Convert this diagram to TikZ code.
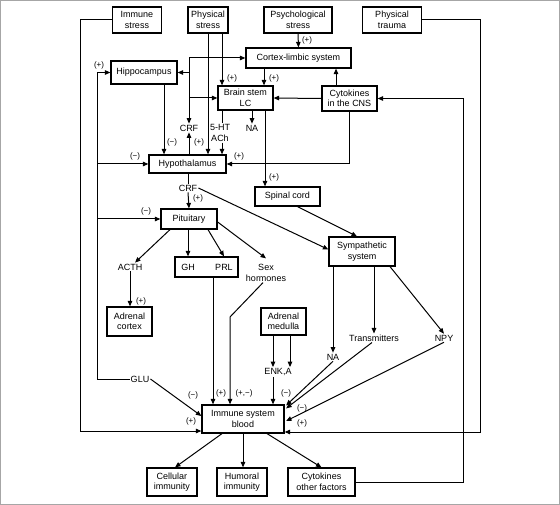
\documentclass[tikz,border=0pt]{standalone}
\usepackage{fontspec}
\setmainfont{Liberation Sans}
\usetikzlibrary{arrows.meta}

\begin{document}
\begin{tikzpicture}[x=1pt,y=-1pt,
		font=\fontsize{9}{10.5}\selectfont,
		box/.style={draw,line width=1.2pt,align=center,inner sep=0pt},
		plain/.style={align=center,inner sep=1pt},
		sign/.style={inner sep=0pt,font=\fontsize{8}{9}\selectfont},
		link/.style={line width=1pt},
		arr/.style={line width=1pt,-{Triangle[length=5.5pt,width=4.5pt]}}]
	\useasboundingbox (0,0) rectangle (560,505);
	\draw[gray!70,line width=1pt] (0.5,0.5) rectangle (559.5,504.5);

	\node[box,minimum width=49pt,minimum height=26pt] (imst) at (137,20) {Immune\\stress};
	\node[box,minimum width=40pt,minimum height=26pt] (phst) at (208,20) {Physical\\stress};
	\node[box,minimum width=68pt,minimum height=26pt] (psst) at (298,20) {Psychological\\stress};
	\node[box,minimum width=59pt,minimum height=26pt] (phtr) at (392,20) {Physical\\trauma};
	\node[box,minimum width=105pt,minimum height=20pt] (cortex) at (298.5,58) {Cortex-limbic system};
	\node[box,minimum width=66pt,minimum height=23pt] (hippo) at (144,72.5) {Hippocampus};
	\node[box,minimum width=55pt,minimum height=24pt] (lc) at (245.5,98) {Brain stem\\LC};
	\node[box,minimum width=55pt,minimum height=25pt] (cyto) at (349.5,98.5) {Cytokines\\in the CNS};
	\node[plain] (crfa) at (189,128) {CRF};
	\node[plain] (ht) at (220,133) {5-HT\\ACh};
	\node[plain] (naa) at (252,128) {NA};
	\node[box,minimum width=77pt,minimum height=18pt] (hypo) at (187.5,164) {Hypothalamus};
	\node[plain] (crfb) at (188,188) {CRF};
	\node[box,minimum width=56pt,minimum height=20pt] (pit) at (189,219) {Pituitary};
	\node[box,minimum width=65pt,minimum height=19pt] (spinal) at (287.5,196.5) {Spinal cord};
	\node[box,minimum width=66pt,minimum height=29pt] (symp) at (362,251.5) {Sympathetic\\system};
	\node[plain] (acth) at (130,267) {ACTH};
	\node[box,minimum width=63pt,minimum height=20pt] (ghprl) at (206.5,267) {};
	\node[plain] (gh) at (188,267) {GH};
	\node[plain] (prl) at (224,267) {PRL};
	\node[plain] (sex) at (266,273) {Sex\\hormones};
	\node[box,minimum width=45pt,minimum height=29pt] (adco) at (129.5,321.5) {Adrenal\\cortex};
	\node[box,minimum width=45pt,minimum height=27pt] (adme) at (283.5,321.5) {Adrenal\\medulla};
	\node[plain] (enk) at (278,372) {ENK,A};
	\node[plain] (nab) at (333,357) {NA};
	\node[plain] (trans) at (374,338) {Transmitters};
	\node[plain] (npy) at (444,338) {NPY};
	\node[plain] (glu) at (140,379) {GLU};
	\node[box,minimum width=82pt,minimum height=28pt] (imm) at (243,419) {Immune system\\blood};
	\node[box,minimum width=50pt,minimum height=28pt] (cell) at (172,482) {Cellular\\immunity};
	\node[box,minimum width=50pt,minimum height=28pt] (hum) at (242,482) {Humoral\\immunity};
	\node[box,minimum width=67pt,minimum height=28pt] (cytof) at (321.5,482) {Cytokines\\other factors};

	% feedback lines on the left
	\coordinate (l1) at (80,431);
	\draw[arr] (imst.west) -| (l1) -- (l1 -| imm.west);
	\coordinate (l2) at (97,379);
	\draw[arr] (glu.west) -- (l2) |- (hippo.west);
	\draw[arr] (l2 |- hypo.west) -- (hypo.west);
	\draw[arr] (l2 |- pit.west) -- (pit.west);
	\draw[arr] (glu.east) -- ([yshift=3pt]imm.west);

	% stress inputs
	\draw[arr] (phst.south) -- (phst.south |- hypo.north);
	\coordinate (p2) at (222,33);
	\draw[arr] (p2) -- (p2 |- lc.north);
	\draw[link] (p2 |- lc.south) -- (p2 |- ht.north);
	\draw[arr] (p2 |- ht.south) -- (p2 |- hypo.north);
	\draw[arr] (psst.south) -- (cortex.north);
	\coordinate (c2) at (264,0);
	\draw[arr] (c2 |- cortex.south) -- (c2 |- lc.north);
	\coordinate (c3) at (336,0);
	\draw[arr] (c3 |- cyto.north) -- (c3 |- cortex.south);
	\draw[arr] (cyto.west) -- (lc.east);
	\draw[arr] (cyto.south) |- (hypo.east);
	\coordinate (r1) at (463,98.5);
	\draw[arr] (cytof.east) -| (r1) -- (r1 -| cyto.east);
	\coordinate (r2) at (480,432);
	\draw[arr] (phtr.east) -| (r2) -- (r2 -| imm.east);

	% CRF column
	\coordinate (c1) at (189,58);
	\draw[arr] (c1) -- (cortex.west);
	\draw[arr] (c1) -- (c1 |- crfa.north);
	\draw[arr] (c1 |- hippo.east) -- (hippo.east);
	\draw[arr] (c1 |- lc.west) -- (lc.west);
	\draw[arr] ([xshift=20pt]hippo.south) -- ([xshift=20pt]hippo.south |- hypo.north);
	\draw[arr] (hypo.north -| crfa) -- (crfa.south);
	\draw[arr] (lc.south -| naa) -- (naa.north);
	\draw[arr] ([xshift=19.5pt]lc.south) -- ([xshift=19.5pt]lc.south |- spinal.north);

	% pituitary and sympathetic
	\draw[link] (hypo.south -| crfb) -- (crfb.north);
	\draw[arr] (crfb.south) -- (pit.north);
	\draw[arr] (crfb.east) -- ([yshift=2pt]symp.west);
	\draw[arr] ([xshift=10pt]spinal.south) -- ([xshift=-5pt]symp.north);
	\draw[arr] ([xshift=-19pt]pit.south) -- ([xshift=5pt]acth.north);
	\draw[arr] (pit.south -| gh) -- (gh |- ghprl.north);
	\draw[arr] ([xshift=19pt]pit.south) -- (prl |- ghprl.north);
	\draw[arr] ([yshift=-3pt]pit.east) -- ([yshift=5pt]sex.north);
	\draw[arr] (acth.south) -- (acth.south |- adco.north);
	\draw[arr] ([xshift=6.5pt]ghprl.south) -- ([xshift=6.5pt]ghprl.south |- imm.north);
	\coordinate (k1) at (230,317);
	\draw[arr] ([xshift=-3pt]sex.south) -- (k1) -- (k1 |- imm.north);
	\draw[arr] ([xshift=-10.5pt]adme.south) -- ([xshift=-10.5pt]adme.south |- enk.north);
	\draw[arr] ([xshift=6.5pt]adme.south) -- ([xshift=6.5pt]adme.south |- enk.north);
	\draw[arr] ([xshift=-5pt]enk.south) -- ([xshift=-5pt]enk.south |- imm.north);
	\draw[arr] (symp.south -| nab) -- (nab.north);
	\draw[arr] (symp.south -| trans) -- (trans.north);
	\draw[arr] ([xshift=28pt]symp.south) -- (npy.north);
	\draw[arr] (nab.south) -- ([xshift=1.5pt,yshift=-1pt]imm.north east);
	\draw[arr] ([xshift=-2pt]trans.south) -- ([xshift=1.5pt,yshift=-4pt]imm.north east);
	\draw[arr] (npy.south) -- ([xshift=1.5pt,yshift=-2pt]imm.east);

	% outputs
	\draw[arr] ([xshift=-21pt]imm.south) -- ([xshift=3pt]cell.north);
	\draw[arr] (imm.south) -- (imm.south |- hum.north);
	\draw[arr] ([xshift=24pt]imm.south) -- (cytof.north);

	\node[sign] (sg1) at (99,65) {(+)};
	\node[sign] (sg2) at (135,156) {(−)};
	\node[sign] (sg3) at (146,211) {(−)};
	\node[sign] (sg4) at (172,142) {(−)};
	\node[sign] (sg5) at (199,142) {(+)};
	\node[sign] (sg6) at (232,78) {(+)};
	\node[sign] (sg7) at (274,78) {(+)};
	\node[sign] (sg8) at (307,40) {(+)};
	\node[sign] (sg9) at (239,156) {(+)};
	\node[sign] (sg10) at (274,177) {(+)};
	\node[sign] (sg11) at (198,198) {(+)};
	\node[sign] (sg12) at (141,301) {(+)};
	\node[sign] (sg13) at (193,395) {(−)};
	\node[sign] (sg14) at (191,421) {(+)};
	\node[sign] (sg15) at (221,393) {(+)};
	\node[sign] (sg16) at (244,393) {(+,−)};
	\node[sign] (sg17) at (286,393) {(−)};
	\node[sign] (sg18) at (302,408) {(−)};
	\node[sign] (sg19) at (302,423) {(+)};
\end{tikzpicture}
\end{document}
